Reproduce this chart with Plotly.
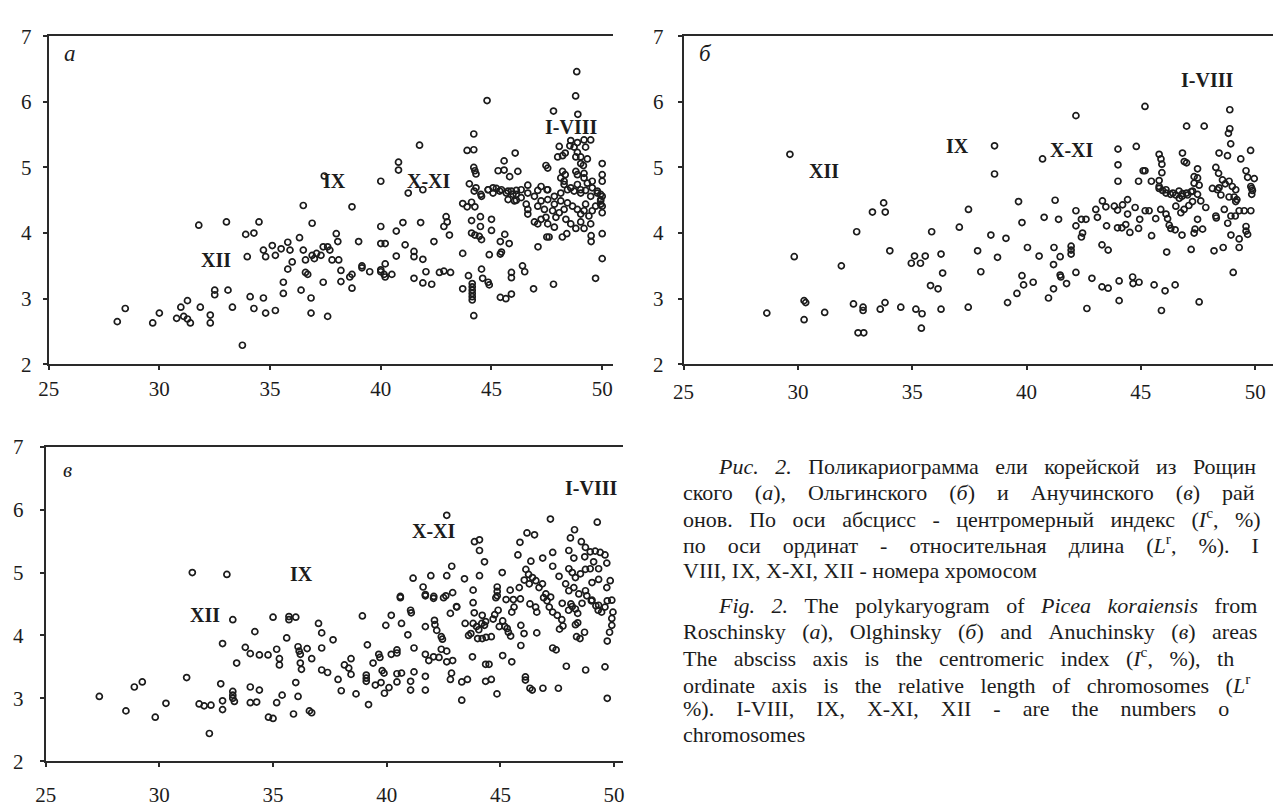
import plotly.graph_objects as go

# ---------------- data (centromeric index Ic %, relative length Lr %) ----------------
roschinsky_points = [
    (28.1, 2.65), (28.46, 2.85), (29.7, 2.63), (30.0, 2.78), (30.78, 2.70), (30.97, 2.87), (31.1, 2.73),
    (31.27, 2.97), (31.27, 2.69), (31.4, 2.63), (31.85, 2.87), (31.78, 4.12), (32.3, 2.75), (32.3, 2.63),
    (32.5, 3.13), (32.5, 3.06), (33.03, 4.17), (33.1, 3.13), (33.3, 2.87), (33.75, 2.29), (33.9, 3.98),
    (33.97, 3.64), (34.1, 3.03), (34.27, 4.0), (34.27, 2.85), (34.5, 4.17), (34.7, 3.74), (34.8, 3.64),
    (34.7, 3.01), (34.8, 2.78), (35.1, 3.81), (35.24, 3.66), (35.24, 2.82), (35.5, 3.76), (35.8, 3.86),
    (35.9, 3.74), (36.0, 3.56), (35.8, 3.45), (35.6, 3.25), (35.6, 3.08), (36.33, 3.93), (36.5, 4.42),
    (36.5, 3.74), (36.6, 3.59), (36.6, 3.40), (36.7, 3.37), (36.4, 3.13), (36.85, 3.01), (36.85, 2.78),
    (36.9, 4.15), (36.9, 3.66), (37.0, 3.61), (37.1, 3.69), (37.3, 3.66), (37.4, 3.79), (37.6, 3.79),
    (37.4, 3.25), (37.6, 2.73), (37.45, 4.87), (37.7, 3.74), (38.7, 4.4), (37.99, 3.99), (38.06, 3.87),
    (37.8, 3.59), (38.1, 3.59), (38.2, 3.43), (38.2, 3.26), (38.6, 3.33), (38.7, 3.37), (38.7, 3.16),
    (39.0, 3.87), (39.15, 3.5), (39.15, 3.47), (39.5, 3.41), (40.0, 4.1), (40.0, 3.84), (40.2, 3.84),
    (40.0, 3.44), (40.0, 3.41), (40.2, 3.53), (40.15, 3.37), (40.2, 3.33), (40.5, 3.37), (40.7, 4.03),
    (40.7, 3.65), (41.0, 4.16), (41.1, 3.82), (41.5, 3.72), (41.5, 3.64), (41.9, 3.6), (41.5, 3.31),
    (41.9, 3.24), (42.04, 3.41), (42.3, 3.22), (41.8, 4.16), (42.4, 3.87), (42.65, 3.4), (42.85, 3.42),
    (43.15, 3.4), (42.85, 4.1), (43.0, 4.17), (42.95, 4.25), (43.1, 3.97), (43.7, 3.69), (43.7, 3.15),
    (43.96, 3.35), (44.13, 3.23), (44.13, 3.18), (44.13, 3.13), (44.13, 3.08), (44.13, 3.03), (44.13, 2.98),
    (44.2, 2.74), (44.5, 4.25), (44.5, 4.1), (44.1, 4.19), (44.1, 4.0), (44.25, 3.97), (44.45, 3.95),
    (44.55, 3.9), (43.7, 4.45), (43.9, 4.4), (44.1, 4.47), (44.25, 4.4), (44.55, 3.45), (44.6, 3.31),
    (44.85, 3.25), (44.9, 3.21), (44.9, 3.67), (45.0, 4.04), (45.0, 4.21), (45.4, 3.02), (45.65, 3.0),
    (45.9, 3.07), (45.4, 3.68), (45.45, 3.71), (45.4, 3.87), (45.6, 3.98), (45.8, 3.84), (45.9, 3.4),
    (45.9, 3.32), (46.4, 3.5), (46.5, 3.41), (46.9, 3.15), (47.1, 3.79), (47.8, 3.22), (47.5, 3.94),
    (47.6, 3.94), (48.2, 3.94), (48.4, 3.99), (49.5, 3.87), (49.5, 3.96), (50.0, 3.99), (50.0, 3.61),
    (49.7, 3.31),
    (44.22, 4.64), (44.52, 4.59), (44.85, 4.66), (45.07, 4.61), (45.22, 4.68), (45.45, 4.66), (45.67, 4.61),
    (45.9, 4.64), (46.12, 4.59), (45.75, 4.51), (46.04, 4.49), (46.34, 4.54), (46.57, 4.44), (46.64, 4.36),
    (46.64, 4.29), (46.94, 4.17), (47.09, 4.14), (47.24, 4.21), (47.46, 4.24), (47.54, 4.14), (47.84, 4.09),
    (47.91, 4.24), (48.06, 4.31), (48.28, 4.36), (48.43, 4.46), (48.66, 4.41), (48.88, 4.36), (49.03, 4.29),
    (49.18, 4.34), (49.4, 4.26), (49.55, 4.34), (49.7, 4.41), (49.93, 4.49), (50.0, 4.31), (50.0, 4.41),
    (50.0, 4.56), (49.78, 4.61), (49.48, 4.56), (49.03, 4.61), (48.73, 4.64), (48.43, 4.66), (48.13, 4.61),
    (47.84, 4.56), (47.54, 4.51), (47.24, 4.49), (46.94, 4.56), (46.64, 4.61), (46.34, 4.66), (47.54, 4.66),
    (47.84, 4.44), (48.13, 4.49), (48.36, 4.21), (48.58, 4.14), (48.81, 4.07), (49.03, 4.17), (49.18, 4.07),
    (49.48, 4.14), (49.25, 4.44), (47.76, 4.34), (47.39, 4.36), (47.09, 4.41),
    (48.85, 6.46), (48.8, 6.09), (48.9, 5.81), (47.8, 5.86), (44.8, 6.02), (44.2, 5.51), (43.9, 5.26),
    (44.2, 5.27), (44.2, 5.0), (44.25, 4.95), (44.3, 4.9), (44.0, 4.75), (44.3, 4.69), (44.55, 4.56),
    (40.8, 5.08), (40.8, 4.96), (41.75, 5.34), (40.0, 4.79), (41.24, 4.61), (41.9, 4.66),
    (48.06, 5.32), (48.21, 5.18), (48.33, 5.22), (47.99, 5.16), (48.58, 5.41), (48.88, 5.38), (49.18, 5.42),
    (49.48, 5.42), (48.54, 5.33), (48.73, 5.31), (48.88, 5.23), (49.03, 5.16), (48.81, 5.16), (49.25, 5.31),
    (49.33, 5.13), (49.03, 5.06), (49.15, 5.03), (50.0, 5.06), (50.0, 4.89), (50.0, 4.79), (48.21, 4.94),
    (48.33, 4.89), (48.13, 4.84), (48.28, 4.79), (48.81, 4.94), (48.88, 4.89), (49.18, 4.91), (49.18, 4.84),
    (49.33, 4.76), (49.55, 4.79), (48.28, 4.74), (48.58, 4.69), (48.88, 4.74), (49.03, 4.66), (49.25, 4.65),
    (49.55, 4.69), (49.78, 4.64), (49.93, 4.59), (49.93, 4.51), (49.93, 4.44), (47.46, 5.03), (47.54, 4.99),
    (46.64, 4.73), (47.09, 4.65), (47.24, 4.71), (47.51, 4.66), (46.07, 5.22), (45.57, 5.1), (45.3, 4.95),
    (45.57, 4.96), (45.82, 4.86), (46.19, 4.94), (44.85, 4.66), (45.07, 4.69), (45.37, 4.64), (45.75, 4.64),
    (46.12, 4.65), (45.97, 4.59), (46.12, 4.5),
]

olghinsky_points = [
    (28.64, 2.78), (29.84, 3.64), (30.27, 2.97), (30.34, 2.94), (30.27, 2.68), (31.17, 2.79), (31.9, 3.5),
    (32.43, 2.92), (32.57, 4.02), (32.63, 2.48), (32.88, 2.48), (32.85, 2.87), (32.85, 2.82), (33.26, 4.32),
    (33.75, 4.46), (33.82, 4.32), (33.81, 2.94), (33.6, 2.84), (34.02, 3.73), (34.5, 2.87), (34.96, 3.54),
    (35.1, 3.65), (35.36, 3.54), (35.57, 3.65), (35.16, 2.84), (35.43, 2.77), (35.4, 2.55), (35.85, 4.02),
    (35.8, 3.2), (36.13, 3.15), (36.26, 3.68), (36.33, 3.39), (36.26, 2.84), (29.65, 5.2),
    (37.46, 4.36), (37.06, 4.09), (37.45, 2.87), (37.86, 3.73), (38.0, 3.41), (38.44, 3.97), (38.73, 3.63),
    (39.1, 3.92), (39.17, 2.94), (39.58, 3.08), (39.65, 4.48), (39.8, 4.16), (39.8, 3.35), (39.87, 3.21),
    (40.04, 3.78), (40.29, 3.25), (40.55, 3.65), (40.77, 4.24), (40.96, 3.01), (41.18, 3.15), (41.18, 3.52),
    (41.2, 3.78), (41.25, 4.5), (41.4, 4.21), (41.47, 3.64), (41.47, 3.36), (41.5, 3.33), (41.75, 3.23),
    (41.95, 3.8), (41.95, 3.74), (41.95, 3.68), (42.16, 3.4), (42.16, 4.34), (42.16, 4.11), (42.4, 4.21),
    (42.6, 4.21), (42.45, 4.0), (42.4, 3.94), (42.64, 2.85), (42.86, 3.31), (43.03, 4.36), (43.1, 4.24),
    (43.32, 4.49), (43.47, 4.4), (43.3, 3.82), (43.57, 3.74), (43.3, 3.18), (43.57, 3.16), (43.5, 4.11),
    (43.84, 4.41), (43.98, 4.35), (44.2, 4.43), (44.42, 4.51), (43.98, 4.08), (44.17, 4.08), (44.34, 4.13),
    (44.05, 3.27), (44.05, 2.97), (44.42, 4.29), (44.52, 4.01), (44.64, 3.33), (44.66, 3.23), (44.92, 3.25),
    (44.75, 4.39), (44.9, 4.07), (44.95, 4.21), (45.19, 4.34), (45.36, 4.34), (45.47, 3.96), (45.58, 3.21),
    (45.65, 4.22), (45.87, 4.36), (45.9, 2.82), (46.06, 3.12), (46.13, 3.71), (46.1, 4.29), (46.17, 4.22),
    (46.24, 4.12), (46.31, 4.07), (46.5, 4.05), (46.5, 3.21), (46.8, 3.97), (47.2, 3.75), (47.33, 4.0),
    (47.37, 4.06), (47.48, 4.21), (47.7, 4.06), (47.55, 2.95), (48.2, 3.73), (48.6, 3.78), (48.28, 4.26),
    (48.3, 4.23), (48.65, 4.36), (48.8, 4.15), (48.94, 4.26), (49.13, 4.26), (49.3, 4.34), (49.52, 4.34),
    (49.81, 4.34), (48.94, 3.97), (49.3, 3.91), (49.3, 3.78), (49.04, 3.4), (49.6, 4.1), (49.6, 4.03),
    (49.67, 3.98), (49.85, 4.68), (49.88, 4.65), (49.15, 4.48), (49.08, 4.55), (48.86, 4.55), (48.5, 4.58),
    (48.13, 4.68), (48.35, 4.66), (45.8, 4.68), (46.1, 4.66), (46.4, 4.61), (46.67, 4.64), (46.8, 4.56),
    (47.0, 4.61), (47.26, 4.64), (47.48, 4.59), (47.62, 4.49), (47.84, 4.39), (47.1, 4.42), (46.89, 4.36),
    (46.75, 4.31), (46.53, 4.41),
    (38.6, 5.33), (38.6, 4.9), (40.7, 5.13), (42.16, 5.79), (44.0, 5.28), (44.8, 5.32), (44.0, 5.04),
    (44.0, 4.79), (44.9, 4.79), (45.18, 4.95), (45.46, 4.79), (45.18, 5.93), (45.8, 5.2), (45.88, 5.13),
    (45.92, 5.05), (45.8, 4.8), (45.92, 4.92), (45.8, 4.71), (45.95, 4.65), (46.1, 4.61), (46.3, 4.59),
    (47.0, 5.63), (47.77, 5.63), (46.82, 5.22), (46.9, 5.09), (47.0, 5.07), (47.48, 4.98), (47.33, 4.86),
    (47.48, 4.84), (47.33, 4.76), (47.55, 4.73), (47.2, 4.63), (46.53, 4.58), (46.68, 4.53), (46.82, 4.6),
    (47.04, 4.58), (47.26, 4.48), (48.89, 5.88), (48.89, 5.59), (48.83, 5.52), (48.93, 5.36), (48.42, 5.22),
    (48.79, 5.18), (49.37, 5.13), (49.8, 5.26), (48.28, 5.0), (48.4, 4.91), (48.57, 4.81), (48.69, 4.75),
    (48.42, 4.69), (48.86, 4.79), (49.0, 4.71), (49.15, 4.66), (49.2, 4.51), (49.6, 4.95), (49.67, 4.85),
    (49.96, 4.83), (49.81, 4.71), (49.85, 4.59), (45.1, 4.95),
]

anuchinsky_points = [
    (27.36, 3.03), (28.53, 2.8), (28.9, 3.18), (29.25, 3.26), (29.82, 2.7), (30.29, 2.92), (31.2, 3.33),
    (31.75, 2.91), (31.97, 2.88), (32.27, 2.89), (32.2, 2.44), (32.7, 3.23), (32.78, 3.87), (32.78, 2.96),
    (32.78, 2.82), (33.23, 4.25), (33.23, 3.11), (33.23, 3.05), (33.23, 3.0), (33.3, 2.95), (33.4, 3.56),
    (33.78, 3.81), (34.0, 3.71), (34.0, 3.18), (34.0, 2.93), (34.2, 4.06), (34.28, 2.94), (34.4, 3.69),
    (34.4, 3.13), (34.78, 3.69), (34.8, 2.7), (35.0, 2.68), (35.0, 4.29), (35.16, 3.78), (35.28, 3.63),
    (35.28, 3.53), (35.16, 2.93), (35.4, 3.05), (35.6, 3.96), (35.7, 4.3), (35.7, 4.25), (36.0, 4.29),
    (35.9, 2.75), (36.0, 3.25), (36.1, 3.82), (36.15, 3.75), (36.2, 3.7), (36.2, 3.56), (36.25, 3.46),
    (36.1, 3.03), (36.5, 3.79), (36.6, 2.8), (36.7, 2.77), (36.7, 3.63), (37.0, 4.19), (37.14, 4.04),
    (37.14, 3.8), (37.14, 3.45), (37.4, 3.41), (37.64, 3.93), (37.86, 3.3), (38.0, 3.12), (38.14, 3.53),
    (38.33, 3.48), (38.43, 3.63), (38.43, 3.38), (38.65, 3.07), (38.93, 4.31), (39.15, 3.85), (39.2, 2.9),
    (39.1, 3.37), (39.1, 3.32), (39.1, 3.27), (39.4, 3.56), (39.5, 3.21), (39.65, 3.7), (39.7, 3.65),
    (39.75, 3.25), (39.8, 3.44), (39.88, 3.4), (39.9, 3.08), (39.96, 4.16), (40.1, 3.17), (40.2, 4.32),
    (40.2, 3.7), (40.45, 3.72), (40.45, 3.77), (40.45, 3.39), (40.45, 3.26), (40.65, 3.4), (40.6, 4.6),
    (40.65, 4.19), (40.93, 4.01), (41.05, 4.4), (41.08, 4.36), (41.05, 3.27), (41.05, 3.13), (41.2, 3.8),
    (41.2, 3.42), (41.7, 4.14), (41.7, 3.7), (41.7, 3.35), (41.7, 3.13), (41.7, 4.63), (41.85, 3.6),
    (42.06, 3.66), (42.06, 4.59), (42.1, 4.24), (42.12, 4.17), (42.2, 4.08), (42.3, 3.65), (42.4, 3.98),
    (42.45, 3.94), (42.4, 3.78), (42.5, 4.6), (42.64, 3.58), (42.64, 3.75), (42.8, 3.3), (42.85, 3.4),
    (42.8, 4.35), (42.9, 3.6), (43.08, 4.45), (43.3, 2.97), (43.3, 3.26), (43.45, 4.19), (43.55, 3.3),
    (43.6, 4.0), (43.7, 4.03), (43.77, 3.66), (43.8, 4.52), (43.85, 4.36), (43.8, 4.19), (43.95, 4.14),
    (44.05, 4.09), (44.18, 4.19), (44.3, 4.16), (44.35, 4.22), (44.2, 4.32), (44.0, 3.95), (44.2, 3.95),
    (44.37, 3.97), (44.6, 3.98), (44.35, 3.54), (44.5, 3.54), (44.35, 3.27), (44.6, 3.3), (44.85, 3.07),
    (44.8, 4.6), (44.75, 4.33), (44.68, 4.26), (44.9, 4.4), (45.1, 4.23), (45.2, 4.14), (45.3, 4.11),
    (45.35, 4.05), (45.45, 3.99), (44.95, 4.14), (45.1, 3.68), (45.5, 3.58), (45.5, 4.37), (45.6, 4.45),
    (45.9, 4.16), (45.88, 4.58), (45.9, 3.84), (46.04, 4.03), (46.1, 3.34), (46.1, 3.29), (46.3, 3.16),
    (46.4, 3.13), (46.3, 4.5), (46.55, 4.45), (46.6, 4.37), (46.6, 4.04), (46.87, 3.16), (46.9, 4.6),
    (47.05, 4.55), (47.15, 4.45), (47.3, 4.37), (47.5, 4.32), (47.3, 3.8), (47.45, 3.77), (47.55, 3.16),
    (47.6, 4.1), (47.75, 4.15), (47.7, 4.25), (47.9, 3.51), (48.0, 4.4), (48.3, 4.42), (48.4, 4.35),
    (48.1, 4.5), (48.3, 4.17), (48.4, 4.2), (48.35, 3.98), (48.5, 3.95), (48.7, 4.05), (48.75, 3.45),
    (48.8, 4.63), (49.0, 4.55), (49.2, 4.47), (49.3, 4.4), (49.45, 4.37), (49.6, 4.45), (49.7, 4.55),
    (49.6, 3.5), (49.7, 3.0), (49.7, 3.91), (49.8, 4.05), (49.9, 4.16), (49.9, 4.27), (49.95, 4.37),
    (31.45, 5.0), (32.97, 4.97),
    (42.64, 5.91), (43.86, 5.49), (44.08, 5.52), (44.08, 5.35), (44.3, 5.17), (42.86, 5.1), (41.94, 4.95),
    (41.16, 4.91), (41.6, 4.77), (41.7, 4.65), (42.07, 4.62), (42.64, 4.95), (42.9, 4.68), (42.6, 4.63),
    (43.42, 4.9), (43.8, 4.72), (44.08, 4.95), (43.07, 4.46), (40.6, 4.62), (45.08, 5.0), (44.86, 4.77),
    (44.86, 4.7), (44.86, 4.63), (47.2, 5.85), (46.17, 5.63), (46.5, 5.6), (45.86, 5.48), (45.77, 5.28),
    (47.3, 5.32), (46.34, 5.18), (46.86, 5.23), (47.3, 5.1), (48.26, 5.68), (49.26, 5.8), (48.08, 5.55),
    (48.56, 5.49), (48.74, 5.40), (48.95, 5.33), (49.17, 5.34), (49.39, 5.32), (49.6, 5.28), (48.01, 5.35),
    (48.23, 5.23), (48.71, 5.25), (49.1, 5.17), (49.32, 5.06), (49.68, 5.15), (48.01, 5.06), (48.16, 5.0),
    (48.3, 4.92), (48.52, 4.98), (48.74, 5.05), (48.95, 5.06), (46.12, 5.05), (46.24, 4.97), (46.41, 4.92),
    (46.56, 4.87), (46.27, 4.82), (46.05, 4.88), (46.7, 4.76), (46.85, 4.82), (47.0, 4.66), (47.21, 4.61),
    (45.83, 4.76), (45.43, 4.72), (45.25, 4.57), (45.57, 4.57), (47.58, 4.94), (47.87, 4.82), (48.01, 4.71),
    (48.23, 4.76), (48.45, 4.66), (48.74, 4.71), (49.03, 4.84), (49.32, 4.89), (49.68, 4.76), (49.83, 4.87),
    (47.72, 4.51), (48.16, 4.46), (48.59, 4.51), (49.03, 4.56), (49.32, 4.48), (49.9, 4.56),
]

x_ticks = [25, 30, 35, 40, 45, 50]
y_ticks = [2, 3, 4, 5, 6, 7]
panel_letters = ["а", "б", "в"]
group_labels = ["XII", "IX", "X-XI", "I-VIII"]

caption_lines = [
    "<i>Рис. 2.</i> Поликариограмма ели корейской из Рощин",
    "ского (<i>а</i>), Ольгинского (<i>б</i>) и Анучинского (<i>в</i>) рай",
    "онов. По оси абсцисс - центромерный индекс (<i>I</i><sup>c</sup>, %)",
    "по оси ординат - относительная длина (<i>L</i><sup>r</sup>, %). I",
    "VIII, IX, X-XI, XII - номера хромосом",
    "<i>Fig. 2.</i> The polykaryogram of <i>Picea koraiensis</i> from",
    "Roschinsky (<i>a</i>), Olghinsky (<i>б</i>) and Anuchinsky (<i>в</i>) areas",
    "The absciss axis is the centromeric index (<i>I</i><sup>c</sup>, %), th",
    "ordinate axis is the relative length of chromosomes (<i>L</i><sup>r</sup>",
    "%). I-VIII, IX, X-XI, XII - are the numbers o",
    "chromosomes",
]

# ---------------- figure ----------------
W, H = 1274, 812
SERIF = "Liberation Serif, Times New Roman, serif"
INK = "#1c1c1c"

fig = go.Figure()

panels = [
    (roschinsky_points, "x", "y"),
    (olghinsky_points, "x2", "y2"),
    (anuchinsky_points, "x3", "y3"),
]
for pts, xa, ya in panels:
    fig.add_trace(go.Scatter(
        x=[p[0] for p in pts], y=[p[1] for p in pts],
        mode="markers", xaxis=xa, yaxis=ya, showlegend=False, hoverinfo="skip",
        marker=dict(symbol="circle-open", size=6, color=INK, line=dict(width=1.7, color=INK)),
    ))

def px_dom(a, b, total):
    return [a / total, b / total]

def py_dom(top, bottom):
    return [1 - bottom / H, 1 - top / H]

axis_common = dict(
    showgrid=False, zeroline=False, showline=True, linecolor="#2a2a2a", linewidth=2,
    ticks="outside", ticklen=4, tickwidth=1.5, tickcolor="#2a2a2a",
    tickfont=dict(family=SERIF, size=21, color=INK),
)

fig.update_layout(
    width=W, height=H, margin=dict(l=0, r=0, t=0, b=0),
    paper_bgcolor="white", plot_bgcolor="white",
    xaxis=dict(domain=px_dom(38, 608, W), range=[25, 50.5], tickvals=x_ticks, anchor="y",
               mirror=True, ticklabelstandoff=1, **axis_common),
    yaxis=dict(domain=py_dom(25, 363), range=[2, 7], tickvals=y_ticks, anchor="x",
               ticklabelstandoff=7, **axis_common),
    xaxis2=dict(domain=px_dom(679, 1274, W), range=[25, 50.78], tickvals=x_ticks, anchor="y2",
                mirror=True, ticklabelstandoff=4, **axis_common),
    yaxis2=dict(domain=py_dom(25, 363), range=[2, 7], tickvals=y_ticks, anchor="x2",
                ticklabelstandoff=10, **axis_common),
    xaxis3=dict(domain=px_dom(35, 618, W), range=[25, 50.4], tickvals=x_ticks, anchor="y3",
                mirror=True, ticklabelstandoff=10, **axis_common),
    yaxis3=dict(domain=py_dom(448, 772), range=[2, 7], tickvals=y_ticks, anchor="x3",
                ticklabelstandoff=12, **axis_common),
)

annotations = []

for letter, (xr, yr), (lx, ly), size in zip(
        panel_letters, [("x", "y"), ("x2", "y2"), ("x3", "y3")],
        [(25.95, 6.73), (25.95, 6.73), (25.95, 6.63)], [23, 23, 21]):
    annotations.append(dict(x=lx, y=ly, xref=xr, yref=yr, text="<i>" + letter + "</i>",
                            showarrow=False, font=dict(family=SERIF, size=size, color=INK)))

label_pos = {
    ("x", "y"): [(32.57, 3.59), (37.9, 4.79), (42.2, 4.79), (48.6, 5.61)],
    ("x2", "y2"): [(31.13, 4.95), (36.98, 5.33), (42.0, 5.26), (47.9, 6.33)],
    ("x3", "y3"): [(32.0, 4.33), (36.24, 4.97), (42.07, 5.66), (49.0, 6.35)],
}
for (xr, yr), positions in label_pos.items():
    for txt, (lx, ly) in zip(group_labels, positions):
        annotations.append(dict(x=lx, y=ly, xref=xr, yref=yr, text="<b>" + txt + "</b>",
                                showarrow=False, font=dict(family=SERIF, size=20, color=INK)))

# caption: justified look via extra non-breaking spaces between words
NB = "\u00a0"
line_y = [468, 495, 521, 548, 575, 612, 638, 665, 692, 718, 745]
line_x = [712, 676, 676, 676, 676, 712, 676, 676, 676, 676, 676]
line_pad = [2, 3, 2, 3, 0, 2, 2, 2, 2, 3, 0]
for txt, lx, ly, pad in zip(caption_lines, line_x, line_y, line_pad):
    t = txt.replace("<i>I</i><sup>c</sup>", "<i>I</i>\x01").replace("<i>L</i><sup>r</sup>", "<i>L</i>\x02")
    parts = t.split(" ")
    sep = " " + NB * pad
    t = sep.join(parts).replace("\x01", "<sup>c</sup>").replace("\x02", "<sup>r</sup>")
    annotations.append(dict(x=lx / W, y=1 - ly / H, xref="paper", yref="paper", text=t,
                            xanchor="left", yanchor="middle", showarrow=False,
                            font=dict(family=SERIF, size=22, color=INK)))

fig.update_layout(annotations=annotations)
fig.write_html("out.html", config={"displayModeBar": False},
               post_script="document.body.style.margin='0';document.body.style.padding='0';")
